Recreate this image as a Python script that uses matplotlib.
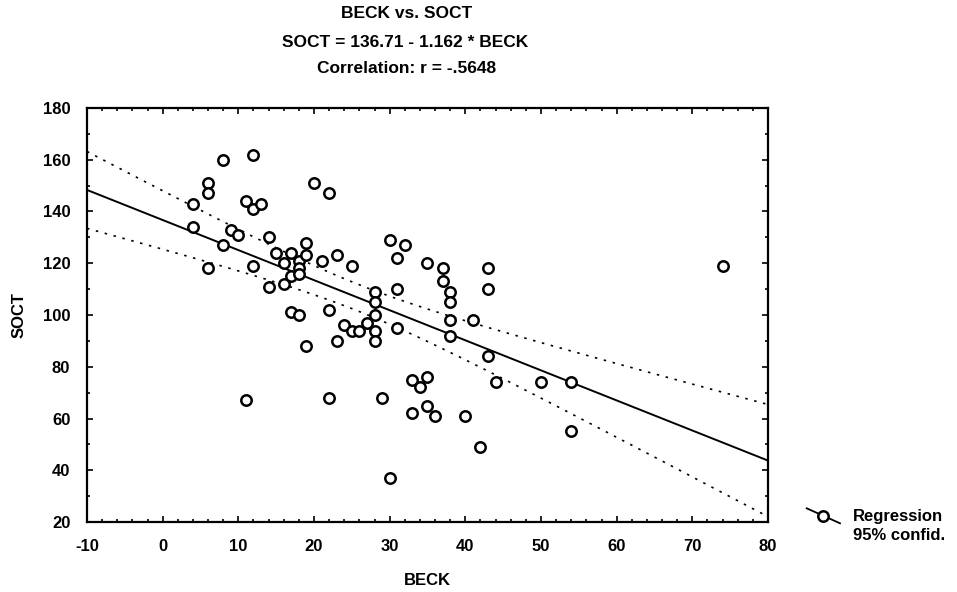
import numpy as np
import matplotlib
matplotlib.use("Agg")
import matplotlib.pyplot as plt
from matplotlib.lines import Line2D

plt.rcParams['font.family'] = ['Liberation Sans', 'DejaVu Sans']
plt.rcParams['font.weight'] = 'bold'
plt.rcParams['axes.labelweight'] = 'bold'
plt.rcParams['axes.unicode_minus'] = False

# BECK / SOCT pairs
beck = [4, 4, 6, 6, 6, 8, 8, 9, 10, 11, 11, 12, 12, 12, 13, 14, 14, 15, 16, 16,
        17, 17, 17, 18, 18, 18, 18, 19, 19, 19, 20, 21, 22, 22, 22, 23, 23, 24, 25, 25,
        26, 27, 28, 28, 28, 28, 28, 29, 30, 30, 31, 31, 31, 32, 33, 33, 34, 35, 35, 35,
        36, 37, 37, 38, 38, 38, 38, 40, 41, 42, 43, 43, 43, 44, 50, 54, 54, 74]
soct = [143, 134, 151, 147, 118, 160, 127, 133, 131, 144, 67, 162, 141, 119, 143, 130, 111, 124, 120, 112,
        124, 115, 101, 121, 118, 116, 100, 128, 123, 88, 151, 121, 147, 102, 68, 123, 90, 96, 119, 94,
        94, 97, 109, 105, 100, 94, 90, 68, 129, 37, 122, 110, 95, 127, 75, 62, 72, 120, 76, 65,
        61, 118, 113, 109, 105, 98, 92, 61, 98, 49, 118, 110, 84, 74, 74, 74, 55, 119]

# regression reported in the header
intercept = 136.71
slope = -1.162
r_value = -.5648

x = np.array(beck, dtype=float)
y = np.array(soct, dtype=float)
n = len(x)
xs = np.linspace(-10, 80, 200)
fit = intercept + slope * xs
resid = y - (intercept + slope * x)
s = np.sqrt(np.sum(resid ** 2) / (n - 2))
sxx = np.sum((x - x.mean()) ** 2)
half = 1.99 * s * np.sqrt(1 / n + (xs - x.mean()) ** 2 / sxx)

fig = plt.figure(figsize=(9.57, 5.92), dpi=100)
ax = fig.add_axes([0.0909, 0.1182, 0.7116, 0.6994])

ax.plot(xs, fit, color='black', lw=1.4)
ax.plot(xs, fit + half, color='black', lw=1.2, linestyle=(0, (1.5, 4)))
ax.plot(xs, fit - half, color='black', lw=1.2, linestyle=(0, (1.5, 4)))
ax.plot(x, y, 'o', mfc='white', mec='black', mew=1.8, ms=7.5, linestyle='none')

ax.set_xlim(-10, 80)
ax.set_ylim(20, 180)
ax.set_xticks(np.arange(-10, 81, 10))
ax.set_yticks(np.arange(20, 181, 20))
ax.set_xticks(np.arange(-10, 81, 2), minor=True)
ax.set_yticks(np.arange(20, 181, 10), minor=True)
ax.tick_params(which='both', direction='in', top=True, right=True, width=1.2)
ax.tick_params(which='major', length=4, labelsize=12)
ax.tick_params(axis='x', which='major', pad=12)
ax.tick_params(axis='y', which='major', pad=12)
ax.tick_params(which='minor', length=2)
for sp in ax.spines.values():
    sp.set_linewidth(1.6)

ax.set_xlabel("BECK", fontsize=12, labelpad=14)
ax.set_ylabel("SOCT", fontsize=12, labelpad=12)

fig.text(0.425, 0.978, "BECK vs. SOCT", ha='center', va='center', fontsize=12.5)
fig.text(0.423, 0.929, "SOCT = 136.71 - 1.162 * BECK", ha='center', va='center', fontsize=12.5)
fig.text(0.425, 0.884, "Correlation: r = -.5648", ha='center', va='center', fontsize=12.5)

# legend key drawn in figure space
fig.add_artist(Line2D([806.7 / 957, 840 / 957], [1 - 508.3 / 592, 1 - 523.3 / 592],
                      color='black', lw=1.3, transform=fig.transFigure))
fig.add_artist(Line2D([822.7 / 957], [1 - 515.5 / 592], marker='o', mfc='white', mec='black',
                      mew=1.8, ms=7.5, transform=fig.transFigure))
fig.text(853 / 957, 1 - 517 / 592, "Regression", ha='left', va='center', fontsize=12)
fig.text(853 / 957, 1 - 535 / 592, "95% confid.", ha='left', va='center', fontsize=12)

fig.savefig("out.png", dpi=100)
